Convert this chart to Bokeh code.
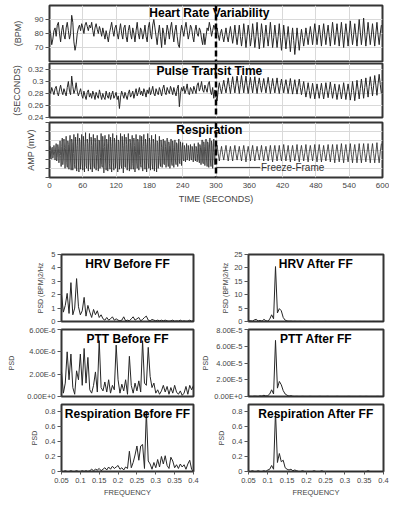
from bokeh.plotting import figure
from bokeh.layouts import column, row
from bokeh.models import Range1d, FixedTicker, CustomJSTickFormatter, Label, Span
from bokeh.embed import file_html
from bokeh.resources import INLINE

# ------------------------------------------------------------------ data
TIME_TICKS = [0, 60, 120, 180, 240, 300, 360, 420, 480, 540, 600]
FF_TIME = 300          # freeze-frame onset (s)
FF_LINE_END = 380      # end of the "Freeze-Frame" pointer line (s)
FF_Y = -19             # height of the pointer in the respiration panel

# heart rate (BPM), one value every 2 s
HR_BEFORE = [
    83, 80, 72, 76, 82, 84, 78, 86, 88, 80,
    74, 82, 86, 79, 76, 84, 88, 82, 76, 80,
    93, 88, 74, 68, 72, 80, 84, 86, 82, 87,
    84, 80, 86, 88, 85, 82, 86, 84, 88, 82,
    78, 84, 87, 83, 80, 85, 82, 78, 84, 80,
    76, 82, 78, 74, 80, 84, 88, 82, 78, 84,
    86, 80, 76, 82, 87, 80, 76, 84, 86, 78,
    74, 82, 86, 80, 76, 84, 80, 74, 82, 88,
    80, 76, 84, 82, 76, 80, 86, 78, 74, 84,
    88, 80, 76, 86, 90, 84, 78, 72, 80, 86,
    78, 70, 84, 80, 72, 78, 86, 82, 76, 84,
    88, 80, 74, 82, 86, 78, 72, 70, 80, 86,
    82, 78, 84, 88, 82, 76, 80, 86, 84, 78,
    74, 82, 86, 80, 78, 84, 82, 76, 72, 80,
    72, 78, 84, 82, 88, 84, 78, 82, 86, 84,
]
HR_AFTER = [
    80, 84, 79, 75, 80, 83, 78, 74, 79, 84,
    78, 74, 80, 85, 79, 73, 79, 86, 78, 72,
    79, 86, 78, 71, 78, 87, 79, 70, 78, 86,
    80, 71, 77, 87, 79, 70, 78, 88, 78, 69,
    77, 87, 80, 70, 78, 86, 78, 71, 79, 88,
    79, 70, 77, 86, 78, 70, 78, 87, 77, 68,
    76, 86, 78, 69, 77, 85, 76, 67, 76, 84,
    75, 65, 74, 84, 76, 68, 76, 83, 77, 71,
    77, 84, 78, 72, 79, 85, 79, 72, 80, 87,
    80, 72, 79, 86, 79, 71, 80, 87, 79, 72,
    80, 86, 78, 71, 80, 88, 80, 72, 79, 87,
    79, 71, 80, 88, 79, 70, 79, 87, 80, 71,
    80, 89, 80, 72, 79, 87, 79, 71, 80, 90,
    81, 72, 80, 91, 80, 71, 79, 88, 80, 72,
    79, 87, 79, 71, 80, 88, 79, 72, 80, 86,
]

# pulse transit time (ms), one value every 2 s
PTT_BEFORE_MS = [
    286, 280, 290, 284, 278, 288, 292, 282, 276, 286,
    294, 284, 278, 288, 282, 276, 290, 300, 284, 278,
    309, 292, 280, 286, 298, 284, 276, 282, 288, 278,
    272, 284, 276, 270, 282, 286, 274, 280, 272, 284,
    278, 270, 282, 276, 272, 286, 278, 270, 280, 274,
    270, 284, 276, 272, 282, 270, 278, 284, 272, 276,
    282, 270, 276, 255, 274, 284, 278, 272, 282, 276,
    270, 280, 286, 274, 278, 284, 272, 280, 288, 276,
    282, 290, 278, 284, 276, 288, 282, 274, 286, 280,
    290, 278, 284, 292, 280, 276, 288, 282, 278, 290,
    284, 276, 288, 294, 282, 278, 290, 284, 280, 292,
    286, 278, 290, 282, 276, 288, 294, 258, 280, 290,
    284, 292, 280, 286, 296, 282, 278, 290, 286, 280,
    292, 286, 280, 294, 298, 284, 290, 300, 286, 282,
    294, 288, 282, 296, 300, 284, 278, 290, 272, 286,
]
PTT_AFTER_MS = [
    274, 268, 286, 298, 288, 280, 292, 302, 290, 281,
    294, 306, 292, 280, 295, 308, 293, 281, 296, 309,
    294, 280, 295, 310, 294, 281, 296, 309, 293, 280,
    294, 307, 293, 281, 296, 308, 292, 280, 295, 306,
    293, 282, 294, 305, 292, 281, 295, 307, 293, 280,
    292, 305, 292, 281, 294, 306, 291, 280, 293, 304,
    292, 281, 293, 303, 291, 280, 292, 305, 291, 279,
    291, 303, 290, 279, 292, 304, 290, 278, 289, 300,
    286, 274, 285, 298, 285, 272, 284, 297, 284, 271,
    283, 296, 284, 272, 285, 297, 283, 271, 284, 298,
    285, 273, 286, 299, 285, 272, 284, 296, 283, 270,
    282, 295, 283, 271, 284, 298, 284, 270, 283, 296,
    283, 269, 282, 300, 285, 268, 284, 302, 287, 271,
    288, 304, 289, 272, 290, 306, 290, 274, 292, 308,
    292, 276, 293, 310, 294, 277, 296, 312, 295, 280,
]

# respiration amplitude (arbitrary units): 1 s samples before FF, 2 s after
RESP_BEFORE = [
    -3, 4, -8, -10, 2, 3, -9, -6, 5, -2,
    -11, 1, 7, -12, -8, 6, 2, -14, -4, 10,
    -6, -18, 4, 13, -16, -10, 12, 3, -20, 2,
    15, -14, -19, 10, 6, -21, 0, 16, -12, -22,
    12, 8, -22, -4, 17, -16, -20, 14, 2, -23,
    5, 18, -12, -24, 13, 9, -21, -6, 17, -15,
    -22, 15, 4, -24, 3, 19, -17, -20, 12, 7,
    -23, -2, 18, -14, -21, 14, 5, -24, 1, 17,
    -18, -20, 13, 8, -22, -5, 16, -13, -23, 11,
    10, -20, -8, 18, -16, -19, 15, 3, -25, 4,
    16, -12, -22, 12, 7, -23, -1, 17, -15, -21,
    14, 4, -24, 2, 18, -14, -22, 13, 8, -20,
    -4, 16, -13, -24, 11, 9, -21, -7, 18, -16,
    -20, 15, 2, -25, 5, 17, -18, -19, 14, 6,
    -22, -3, 18, -12, -23, 12, 8, -21, 0, 16,
    -15, -21, 13, 5, -24, -2, 17, -13, -20, 12,
    9, -22, -6, 16, -16, -19, 15, 2, -23, 4,
    17, -11, -21, 12, 6, -24, -1, 18, -14, -20,
    13, 4, -22, 1, 16, -15, -21, 12, 7, -23,
    -3, 17, -12, -24, 10, 8, -20, -6, 15, -14,
    -18, 11, 3, -19, 2, 12, -15, -16, 10, 4,
    -19, -1, 13, -11, -18, 9, 5, -20, 0, 12,
    -14, -17, 10, 3, -19, -2, 11, -12, -16, 8,
    6, -18, -4, 12, -13, -15, 9, 2, -17, 1,
    8, -10, -12, 5, 1, -13, -3, 7, -11, -9,
    5, -1, -12, -2, 6, -10, -11, 4, 0, -13,
    -2, 7, -9, -12, 4, 2, -13, -4, 8, -10,
    -14, 6, 3, -16, 0, 11, -13, -15, 9, 4,
    -17, -2, 12, -11, -18, 9, 6, -19, 1, 13,
    -12, -18, 10, 5, -20, -3, 12, -10, -16, 8,
]
RESP_AFTER = [
    -3, 5, -4, -12, -3, 4, -5, -11, -2, 5,
    -4, -12, -3, 4, -5, -12, -2, 5, -4, -11,
    -3, 4, -5, -12, -2, 5, -4, -13, -3, 4,
    -4, -12, -2, 5, -5, -12, -3, 4, -4, -11,
    -3, 5, -5, -12, -2, 4, -4, -12, -3, 5,
    -5, -13, -2, 5, -4, -12, -3, 5, -5, -12,
    -2, 6, -4, -12, -3, 5, -5, -13, -2, 5,
    -4, -12, -3, 6, -5, -13, -2, 5, -4, -12,
    -3, 6, -5, -13, -2, 5, -4, -12, -3, 6,
    -5, -13, -2, 6, -4, -13, -3, 5, -5, -12,
    -2, 6, -4, -13, -3, 6, -5, -14, -2, 6,
    -4, -13, -3, 7, -5, -14, -2, 6, -4, -13,
    -3, 7, -5, -14, -2, 6, -4, -14, -3, 7,
    -5, -14, -2, 7, -4, -13, -3, 7, -5, -14,
    -2, 7, -4, -14, -3, 8, -5, -14, -2, 7,
]

# power spectra, frequencies 0.05 .. 0.40 Hz in 0.005 Hz steps
FREQ_START, FREQ_STEP = 0.05, 0.005
FREQ_TICKS = [0.05, 0.1, 0.15, 0.2, 0.25, 0.3, 0.35, 0.4]
HRV_PSD_BEFORE = [
    2.0, 0.7, 1.2, 2.1, 0.6, 2.9, 0.5, 1.0, 3.2, 1.1,
    0.5, 0.8, 1.8, 0.4, 1.2, 0.7, 0.3, 0.9, 0.5, 0.8,
    0.3, 0.5, 0.2, 0.1, 0.3, 0.1, 0.2, 0.35, 0.1, 0.2,
    0.1, 0.05, 0.1, 0.35, 0.05, 0.1, 0.05, 0.2, 0.35, 0.1,
    0.2, 0.3, 0.05, 0.15, 0.3, 0.4, 0.1, 0.05, 0.15, 0.1,
    0.05, 0.1, 0.05, 0.1, 0.05, 0.1, 0.05, 0.02, 0.05, 0.1,
    0.02, 0.05, 0.03, 0.1, 0.02, 0.05, 0.02, 0.03, 0.1, 0.02,
    0.05,
]
PTT_PSD_BEFORE_E6 = [
    2.2, 0.3, 1.2, 4.0, 1.5, 3.8, 0.8, 0.2, 2.3, 1.5,
    3.8, 1.0, 4.3, 1.2, 3.5, 0.6, 0.3, 1.0, 2.2, 0.4,
    5.0, 0.8, 0.5, 1.3, 0.4, 1.5, 0.3, 1.0, 0.6, 4.6,
    1.5, 0.3, 1.1, 0.5, 1.5, 0.2, 3.6, 1.0, 0.3, 1.2,
    0.5, 1.4, 0.4, 5.0, 1.2, 1.0, 4.4, 1.8, 0.8, 1.2,
    0.3, 0.6, 0.2, 0.5, 1.0, 0.4, 0.9, 0.2, 0.8, 0.3,
    1.0, 0.4, 0.2, 0.5, 0.1, 0.3, 0.9, 0.2, 1.0, 0.6,
    1.0,
]
RESP_PSD_BEFORE = [
    0.0, 0.0, 0.01, 0.0, 0.0, 0.01, 0.0, 0.0, 0.01, 0.0,
    0.0, 0.01, 0.0, 0.01, 0.0, 0.01, 0.03, 0.01, 0.03, 0.02,
    0.04, 0.01, 0.03, 0.05, 0.02, 0.06, 0.03, 0.07, 0.04, 0.06,
    0.08, 0.03, 0.05, 0.02, 0.06, 0.04, 0.27, 0.05, 0.12, 0.22,
    0.34, 0.15, 0.34, 0.36, 0.04, 0.8, 0.14, 0.1, 0.03, 0.12,
    0.05, 0.16, 0.06, 0.2, 0.1, 0.21, 0.08, 0.04, 0.19, 0.14,
    0.05, 0.09, 0.04, 0.1, 0.06, 0.09, 0.03, 0.1, 0.15, 0.03,
    0.0,
]
HRV_PSD_AFTER = [
    0.1, 0.3, 0.1, 0.6, 0.8, 0.2, 0.4, 0.1, 0.8, 0.3,
    0.1, 0.9, 2.5, 1.0, 20.5, 3.2, 4.8, 4.0, 1.5, 0.5,
    0.2, 0.1, 0.15, 0.05, 0.1, 0.05, 0.05, 0.08, 0.03, 0.05,
    0.02, 0.04, 0.03, 0.02, 0.05, 0.03, 0.02, 0.04, 0.02, 0.03,
    0.05, 0.02, 0.03, 0.02, 0.04, 0.02, 0.03, 0.02, 0.02, 0.03,
    0.02, 0.04, 0.02, 0.03, 0.02, 0.02, 0.03, 0.02, 0.04, 0.02,
    0.03, 0.02, 0.02, 0.03, 0.02, 0.04, 0.02, 0.03, 0.02, 0.02,
    0.03,
]
PTT_PSD_AFTER_E5 = [
    0.02, 0.03, 0.02, 0.05, 0.04, 0.02, 0.08, 0.05, 0.15, 0.06,
    0.1, 0.3, 0.8, 0.3, 6.7, 1.0, 1.8, 1.4, 0.7, 0.3,
    0.15, 0.05, 0.1, 0.03, 0.02, 0.03, 0.02, 0.02, 0.03, 0.02,
    0.02, 0.02, 0.03, 0.02, 0.02, 0.02, 0.02, 0.03, 0.02, 0.02,
    0.02, 0.03, 0.02, 0.02, 0.02, 0.02, 0.03, 0.02, 0.02, 0.02,
    0.02, 0.02, 0.03, 0.02, 0.02, 0.02, 0.02, 0.02, 0.03, 0.02,
    0.02, 0.03, 0.02, 0.02, 0.02, 0.02, 0.02, 0.03, 0.02, 0.02,
    0.02,
]
RESP_PSD_AFTER = [
    0.0, 0.0, 0.01, 0.0, 0.0, 0.01, 0.0, 0.0, 0.01, 0.0,
    0.02, 0.03, 0.08, 0.03, 0.8, 0.12, 0.24, 0.13, 0.15, 0.05,
    0.03, 0.02, 0.03, 0.01, 0.02, 0.01, 0.0, 0.0, 0.01, 0.0,
    0.0, 0.0, 0.0, 0.0, 0.01, 0.0, 0.0, 0.0, 0.01, 0.0,
    0.0, 0.0, 0.0, 0.0, 0.0, 0.0, 0.0, 0.0, 0.0, 0.0,
    0.0, 0.0, 0.0, 0.0, 0.0, 0.0, 0.0, 0.0, 0.0, 0.0,
    0.0, 0.0, 0.01, 0.0, 0.0, 0.0, 0.0, 0.0, 0.0, 0.0,
    0.0,
]

# ------------------------------------------------------------------ derived series
hr = HR_BEFORE + HR_AFTER
t_hr = [2 * i for i in range(len(hr))]
ptt = [v / 1000 for v in PTT_BEFORE_MS + PTT_AFTER_MS]
t_ptt = [2 * i for i in range(len(ptt))]
resp = RESP_BEFORE + RESP_AFTER
t_resp = list(range(len(RESP_BEFORE))) + [FF_TIME + 2 * i for i in range(len(RESP_AFTER))]
freq = [round(FREQ_START + FREQ_STEP * i, 4) for i in range(len(HRV_PSD_BEFORE))]
ptt_psd_before = [v * 1e-6 for v in PTT_PSD_BEFORE_E6]
ptt_psd_after = [v * 1e-5 for v in PTT_PSD_AFTER_E5]

# ------------------------------------------------------------------ style
FONT = "Liberation Sans"
FRAME_COLOR = "#353535"
TRACE_COLOR = "#262626"
GRID_COLOR = "#d9d9d9"
TEXT_COLOR = "#444444"

FMT_NUM = "return String(parseFloat(tick.toFixed(3)));"
FMT_EXP = "return tick.toExponential(2).toUpperCase();"
FMT_NONE = "return '';"


def style_axis(ax, tick_size, label_size, standoff):
    ax.axis_line_color = None
    ax.major_tick_in = 0
    ax.major_tick_out = 4
    ax.major_tick_line_color = "#555555"
    ax.minor_tick_line_color = None
    ax.major_label_standoff = 2
    ax.major_label_text_font = FONT
    ax.major_label_text_font_size = tick_size
    ax.major_label_text_color = TEXT_COLOR
    ax.axis_label_text_font = FONT
    ax.axis_label_text_font_size = label_size
    ax.axis_label_text_font_style = "normal"
    ax.axis_label_text_color = TEXT_COLOR
    ax.axis_label_standoff = standoff


def top_panel(x, y, y0, y1, yticks, fmt, ylabel, standoff, title,
              frame_h, b_top, b_bottom, show_x, trace_width=1.0):
    p = figure(frame_width=333, frame_height=frame_h,
               x_range=Range1d(0, 600), y_range=Range1d(y0, y1),
               min_border_left=49, min_border_right=7,
               min_border_top=b_top, min_border_bottom=b_bottom,
               output_backend="svg", toolbar_location=None, tools="")
    p.outline_line_color = FRAME_COLOR
    p.outline_line_width = 2
    p.xaxis.ticker = FixedTicker(ticks=TIME_TICKS)
    p.xgrid.ticker = FixedTicker(ticks=TIME_TICKS)
    p.yaxis.ticker = FixedTicker(ticks=yticks)
    p.ygrid.ticker = FixedTicker(ticks=yticks)
    p.grid.grid_line_color = GRID_COLOR
    p.grid.grid_line_width = 1
    style_axis(p.yaxis[0], "8px", "9px", standoff)
    p.yaxis.formatter = CustomJSTickFormatter(code=fmt)
    p.yaxis.axis_label = ylabel
    if show_x:
        style_axis(p.xaxis[0], "8px", "9px", 3)
        p.xaxis.major_tick_out = 0
        p.xaxis.major_label_standoff = 5
        p.xaxis.axis_label = "TIME (SECONDS)"
    else:
        p.xaxis.visible = False
    p.line(x, y, line_color=TRACE_COLOR, line_width=trace_width)
    p.add_layout(Span(location=FF_TIME, dimension="height", line_color="black",
                      line_width=2.5, line_dash="6 3"))
    p.add_layout(Label(x=288, y=y1 - 0.5 / frame_h * (y1 - y0), text=title,
                       text_align="center", text_baseline="top",
                       text_font=FONT, text_font_style="bold",
                       text_font_size="12px", text_color="black"))
    return p


p_hr = top_panel(t_hr, hr, 60, 100, [70, 80, 90], FMT_NUM, "(BPM)", 9,
                 "Heart Rate Variability", 56, 5, 1, False)
p_ptt = top_panel(t_ptt, ptt, 0.24, 0.33, [0.24, 0.26, 0.28, 0.30, 0.32], FMT_NUM,
                  "(SECONDS)", 3, "Pulse Transit Time", 54, 1, 4, False)
p_resp = top_panel(t_resp, resp, -30, 30, [-30, -20, -10, 0, 10, 20, 30], FMT_NONE,
                   "AMP (mV)", 10, "Respiration", 55, 1, 30, True, trace_width=0.8)
p_resp.segment(x0=[FF_TIME + 1], y0=[FF_Y], x1=[FF_LINE_END], y1=[FF_Y],
               line_color="#333333", line_width=1)
p_resp.add_layout(Label(x=FF_LINE_END + 1, y=FF_Y, text="Freeze-Frame",
                        text_baseline="middle", text_font=FONT,
                        text_font_size="10px", text_color="#333333"))


def psd_panel(vals, y1, yticks, fmt, ylabel, standoff, title, left_col,
              frame_h, b_top, b_bottom, show_x):
    fw = 132 if left_col else 135
    p = figure(frame_width=fw, frame_height=frame_h,
               x_range=Range1d(0.05, 0.4), y_range=Range1d(0, y1),
               min_border_left=61 if left_col else 49, min_border_right=6,
               min_border_top=b_top, min_border_bottom=b_bottom,
               output_backend="svg", toolbar_location=None, tools="")
    p.outline_line_color = FRAME_COLOR
    p.outline_line_width = 2
    p.grid.visible = False
    p.yaxis.ticker = FixedTicker(ticks=yticks)
    style_axis(p.yaxis[0], "7.5px", "7px", standoff)
    p.yaxis.formatter = CustomJSTickFormatter(code=fmt)
    p.yaxis.axis_label = ylabel
    if show_x:
        p.xaxis.ticker = FixedTicker(ticks=FREQ_TICKS)
        style_axis(p.xaxis[0], "7.5px", "7.5px", 2)
        p.xaxis.major_tick_out = 3
        p.xaxis.major_label_standoff = 3
        p.xaxis.formatter = CustomJSTickFormatter(code=FMT_NUM)
        p.xaxis.axis_label = "FREQUENCY"
    else:
        p.xaxis.visible = False
    p.line(freq, vals, line_color=TRACE_COLOR, line_width=1)
    p.add_layout(Label(x=0.225, y=y1 - 2.0 / frame_h * y1, text=title,
                       text_align="center", text_baseline="top",
                       text_font=FONT, text_font_style="bold",
                       text_font_size="12px", text_color="black"))
    return p


HRV_LABEL = "PSD (BPM)2/Hz"
l1 = psd_panel(HRV_PSD_BEFORE, 5, [0, 1, 2, 3, 4, 5], FMT_NUM, HRV_LABEL, 4,
               "HRV Before FF", True, 67, 47, 4, False)
r1 = psd_panel(HRV_PSD_AFTER, 25, [0, 5, 10, 15, 20, 25], FMT_NUM, HRV_LABEL, 2,
               "HRV After FF", False, 67, 47, 4, False)
l2 = psd_panel(ptt_psd_before, 6e-6, [0, 2e-6, 4e-6, 6e-6], FMT_EXP, "PSD", 9,
               "PTT Before FF", True, 67, 4, 4, False)
r2 = psd_panel(ptt_psd_after, 8e-5, [0, 2e-5, 4e-5, 6e-5, 8e-5], FMT_EXP, "PSD", 2,
               "PTT After FF", False, 67, 4, 4, False)
l3 = psd_panel(RESP_PSD_BEFORE, 0.893, [0, 0.2, 0.4, 0.6, 0.8], FMT_NUM, "PSD", 4,
               "Respiration Before FF", True, 67, 4, 30, True)
r3 = psd_panel(RESP_PSD_AFTER, 0.893, [0, 0.2, 0.4, 0.6, 0.8], FMT_NUM, "PSD", 4,
               "Respiration After FF", False, 67, 4, 30, True)

page = column(
    p_hr, p_ptt, p_resp,
    row(l1, r1), row(l2, r2), row(l3, r3),
)

open("out.html", "w").write(file_html(page, INLINE))
